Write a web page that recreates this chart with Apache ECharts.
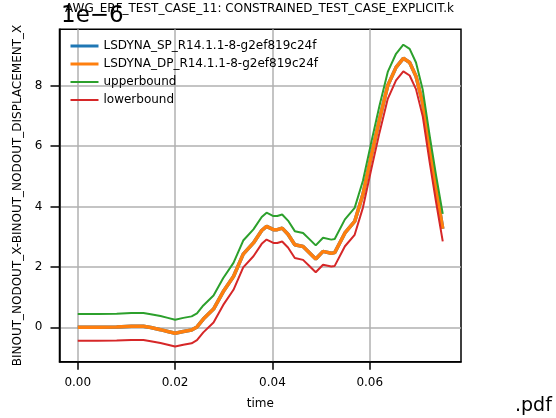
<!DOCTYPE html>
<html>
<head>
<meta charset="utf-8">
<script src="https://cdn.jsdelivr.net/npm/echarts@6/dist/echarts.min.js"></script>
<style>
html,body{margin:0;padding:0;background:#fff;}
#chart{width:556px;height:418px;}
</style>
</head>
<body>
<div id="chart"></div>
<script>
// ---- data (values in units of 1e-6) ----
var times = [0, 0.004, 0.008, 0.011, 0.0135, 0.015, 0.017, 0.0185, 0.020, 0.0217,
  0.0234, 0.0245, 0.0258, 0.0279, 0.0299, 0.032, 0.034, 0.0361, 0.0378, 0.0388,
  0.0402, 0.041, 0.042, 0.0432, 0.0446, 0.0463, 0.0477, 0.0489, 0.0504, 0.0521,
  0.0528, 0.0549, 0.0569, 0.0586, 0.0603, 0.062, 0.0637, 0.0654, 0.0669, 0.0682,
  0.0695, 0.0709, 0.0723, 0.0736, 0.075];
var spValues = [0.00, 0.00, 0.01, 0.03, 0.03, -0.01, -0.08, -0.14, -0.20, -0.14,
  -0.09, 0.01, 0.27, 0.60, 1.18, 1.68, 2.42, 2.79, 3.20, 3.34,
  3.23, 3.23, 3.28, 3.08, 2.73, 2.67, 2.45, 2.26, 2.51, 2.45,
  2.47, 3.12, 3.50, 4.40, 5.66, 6.88, 8.00, 8.60, 8.90, 8.76,
  8.31, 7.40, 5.90, 4.60, 3.26];
var dpValues = [0.00, 0.00, 0.01, 0.03, 0.03, -0.01, -0.08, -0.14, -0.20, -0.14,
  -0.09, 0.01, 0.27, 0.60, 1.18, 1.68, 2.42, 2.79, 3.20, 3.34,
  3.23, 3.23, 3.28, 3.08, 2.73, 2.67, 2.45, 2.26, 2.51, 2.45,
  2.47, 3.12, 3.50, 4.40, 5.66, 6.88, 8.00, 8.60, 8.90, 8.76,
  8.31, 7.40, 5.90, 4.60, 3.26];
var upperValues = [0.44, 0.44, 0.45, 0.47, 0.47, 0.43, 0.37, 0.31, 0.25, 0.31,
  0.36, 0.46, 0.72, 1.05, 1.63, 2.13, 2.87, 3.24, 3.65, 3.79,
  3.68, 3.68, 3.73, 3.53, 3.18, 3.12, 2.90, 2.71, 2.96, 2.90,
  2.92, 3.57, 3.95, 4.85, 6.11, 7.33, 8.45, 9.05, 9.35, 9.21,
  8.76, 7.85, 6.35, 5.05, 3.75];
var lowerValues = [-0.45, -0.45, -0.44, -0.42, -0.42, -0.46, -0.52, -0.58, -0.64, -0.58,
  -0.53, -0.43, -0.17, 0.16, 0.74, 1.24, 1.98, 2.35, 2.76, 2.90,
  2.79, 2.79, 2.84, 2.64, 2.29, 2.23, 2.01, 1.82, 2.07, 2.01,
  2.03, 2.68, 3.06, 3.96, 5.22, 6.44, 7.56, 8.17, 8.47, 8.33,
  7.88, 6.97, 5.47, 4.17, 2.84];
var seriesNames = ['LSDYNA_SP_R14.1.1-8-g2ef819c24f', 'LSDYNA_DP_R14.1.1-8-g2ef819c24f', 'upperbound', 'lowerbound'];
var xTicks = [0, 0.02, 0.04, 0.06];
var yTicks = [0, 2, 4, 6, 8];
var titleText = 'AWG_ERF_TEST_CASE_11: CONSTRAINED_TEST_CASE_EXPLICIT.k';
var xName = 'time';
var yName = 'BINOUT_NODOUT_X-BINOUT_NODOUT_DISPLACEMENT_X';

function pairs(vals) { return times.map(function (t, i) { return [t, vals[i]]; }); }

var FONT = 'DejaVu Sans';
var colors = ['#1f77b4', '#ff7f0e', '#2ca02c', '#d62728'];
var widths = [3.5, 3.5, 2, 2];
var chart = echarts.init(document.getElementById('chart'), null, {renderer: 'canvas'});
var lineSeries = function (i, vals) {
  return {
    name: seriesNames[i], type: 'line', data: pairs(vals), symbol: 'none', showSymbol: false,
    lineStyle: {color: colors[i], width: widths[i]}, itemStyle: {color: colors[i]},
    animation: false, silent: true
  };
};
chart.setOption({
  animation: false,
  backgroundColor: '#ffffff',
  title: [
    {text: titleText, left: 65, top: 3, padding: 0,
      textStyle: {fontFamily: FONT, fontSize: 12, fontWeight: 'normal', color: '#000'}},
    {text: '1e\u22126', left: 61, top: 5, padding: 0,
      textStyle: {fontFamily: FONT, fontSize: 23, fontWeight: 'normal', color: '#000'}},
    {text: '.pdf', left: 515, top: 397, padding: 0,
      textStyle: {fontFamily: FONT, fontSize: 19, fontWeight: 'normal', color: '#000'}}
  ],
  legend: {
    orient: 'vertical', left: 69, top: 40, itemWidth: 28, itemHeight: 14, itemGap: 6,
    padding: 0,
    itemStyle: {opacity: 0},
    textStyle: {fontFamily: FONT, fontSize: 12, color: '#000'},
    data: seriesNames.map(function (n, i) {
      return {name: n, lineStyle: {width: i < 2 ? 3 : 2, color: colors[i]}};
    })
  },
  grid: {
    left: 59.5, top: 29.3, width: 401.5, height: 332.4,
    show: true, borderColor: '#000', borderWidth: 1.5, backgroundColor: 'transparent',
    containLabel: false
  },
  xAxis: {
    type: 'value', min: -0.00375, max: 0.07875,
    name: xName, nameLocation: 'middle', nameGap: 36,
    nameTextStyle: {fontFamily: FONT, fontSize: 12, color: '#000'},
    axisLine: {show: true, onZero: false, lineStyle: {color: '#000', width: 1.5}},
    axisTick: {show: true, length: 8, lineStyle: {color: '#000', width: 1.5}, customValues: xTicks},
    axisLabel: {fontFamily: FONT, fontSize: 12, color: '#000', margin: 15, customValues: xTicks,
      formatter: function (v) { return v.toFixed(2); }},
    splitLine: {show: true, lineStyle: {color: '#b0b0b0', width: 1.5}}
  },
  yAxis: {
    type: 'value', min: -1.14, max: 9.86,
    name: yName, nameLocation: 'middle', nameGap: 35, nameRotate: 90,
    nameTextStyle: {fontFamily: FONT, fontSize: 12, color: '#000'},
    axisLine: {show: true, onZero: false, lineStyle: {color: '#000', width: 1.5}},
    axisTick: {show: true, length: 9, lineStyle: {color: '#000', width: 1.5}, customValues: yTicks},
    axisLabel: {fontFamily: FONT, fontSize: 12, color: '#000', margin: 17, customValues: yTicks},
    splitLine: {show: true, lineStyle: {color: '#b0b0b0', width: 1.5}}
  },
  series: [
    lineSeries(0, spValues),
    lineSeries(1, dpValues),
    lineSeries(2, upperValues),
    lineSeries(3, lowerValues)
  ]
});
</script>
</body>
</html>
